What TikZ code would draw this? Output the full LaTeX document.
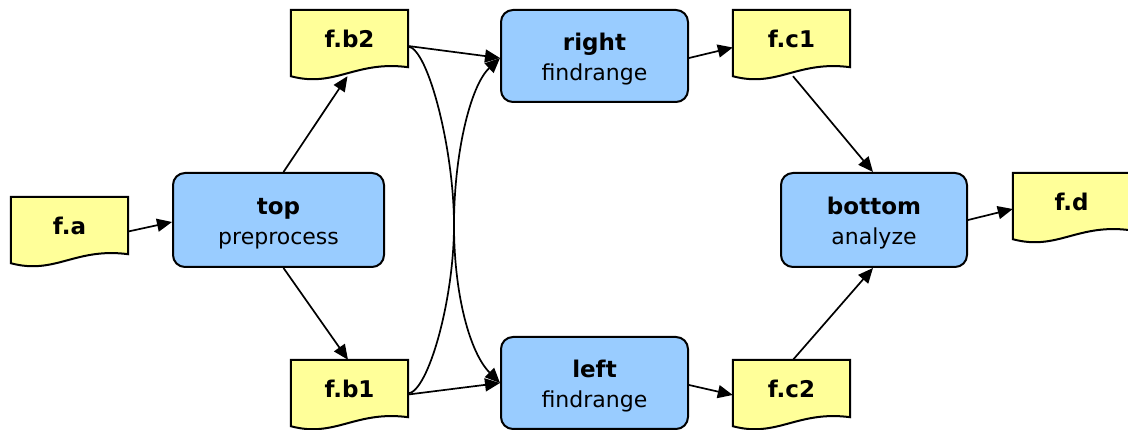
\documentclass[tikz,border=0pt]{standalone}
\usepackage{fontspec}
\setmainfont{DejaVu Sans}
\usetikzlibrary{arrows.meta,calc,backgrounds}
\definecolor{docfill}{HTML}{FFFF99}
\definecolor{procfill}{HTML}{99CCFF}
% two-line job label: bold job name over the program name
\newcommand\joblabel[2]{\begin{tabular}[t]{@{}c@{}}{\fontsize{23}{30}\selectfont\bfseries #1}\\#2\end{tabular}}
\tikzset{
  conn/.style={line width=1.7pt, -{Triangle[length=15pt,width=13pt]}},
  process/.style={draw, line width=2pt, fill=procfill, rounded corners=12pt,
    inner sep=0pt, text height=15pt, text depth=25pt,
    font=\fontsize{22}{30}\selectfont},
  doc/.style={inner sep=0pt, minimum width=117pt, minimum height=57pt,
    text height=19pt, text depth=0pt, font=\fontsize{23}{28}\selectfont\bfseries},
  docline/.style={draw, line width=2pt, fill=docfill, line join=miter}
}
\begin{document}
\begin{tikzpicture}[x=1pt,y=-1pt]
\useasboundingbox (0,0) rectangle (1128,430);

% files
\node[doc] (fa)  at (69.5,225.5)   {f.a};
\node[doc] (fb2) at (349.5,38.5)   {f.b2};
\node[doc] (fb1) at (349.5,388.5)  {f.b1};
\node[doc] (fc1) at (791.5,38.5)   {f.c1};
\node[doc] (fc2) at (791.5,388.5)  {f.c2};
\node[doc] (fd)  at (1071.5,201.5) {f.d};

% jobs
\node[process, minimum width=211pt, minimum height=94pt] (top)    at (278.5,220) {\joblabel{top}{preprocess}};
\node[process, minimum width=187pt, minimum height=92pt] (right)  at (594.5,56)  {\joblabel{right}{findrange}};
\node[process, minimum width=187pt, minimum height=92pt] (left)   at (594.5,383) {\joblabel{left}{findrange}};
\node[process, minimum width=186pt, minimum height=94pt] (bottom) at (874,220)   {\joblabel{bottom}{analyze}};

% where the two crossing edges run side by side
\coordinate (cross) at (454,225);

% document outlines with wavy bottom edge
\begin{pgfonlayer}{background}
\foreach \d in {fa,fb2,fb1,fc1,fc2,fd}
  \draw[docline] (\d.north west) -- (\d.north east) -- (\d.south east)
    .. controls ($(\d.south east)+(-53,-7)$) and ($(\d.south east)+(-73,21)$)
    .. ($(\d.south west)+(0,9)$) -- cycle;
\end{pgfonlayer}

% data flow
\draw[conn] ($(fa.east)+(0,6)$) -- ($(top.west)+(0,2)$);
\draw[conn] ($(top.north)+(5,0)$) -- ($(fb2.south)+(-2,9)$);
\draw[conn] ($(top.south)+(5,0)$) -- ($(fb1.north)+(-1.5,0)$);
\draw[conn] ($(fb2.east)+(0,7.5)$) -- ($(right.west)+(0,2)$);
\draw[conn] ($(fb2.east)+(0,8)$) .. controls ($(fb2.east)+(20,10)$) and ($(cross)+(0,-75)$)
  .. (cross) .. controls ($(cross)+(0,70)$) and ($(left.west)+(-30,-30)$) .. (left.west);
\draw[conn] ($(fb1.east)+(0,5)$) .. controls ($(fb1.east)+(20,3)$) and ($(cross)+(0,75)$)
  .. (cross) .. controls ($(cross)+(0,-70)$) and ($(right.west)+(-30,30)$) .. ($(right.west)+(0,2)$);
\draw[conn] ($(fb1.east)+(0,6)$) -- (left.west);
\draw[conn] ($(right.east)+(0,2)$) -- ($(fc1.west)+(0,9)$);
\draw[conn] ($(left.east)+(0,2)$) -- ($(fc2.west)+(0,6.5)$);
\draw[conn] ($(fc1.south)+(1.5,9)$) -- ($(bottom.north)+(-1,0)$);
\draw[conn] ($(fc2.north)+(1.5,0)$) -- ($(bottom.south)+(-1,0)$);
\draw[conn] (bottom.east) -- ($(fd.west)+(0,7.5)$);
\end{tikzpicture}
\end{document}
